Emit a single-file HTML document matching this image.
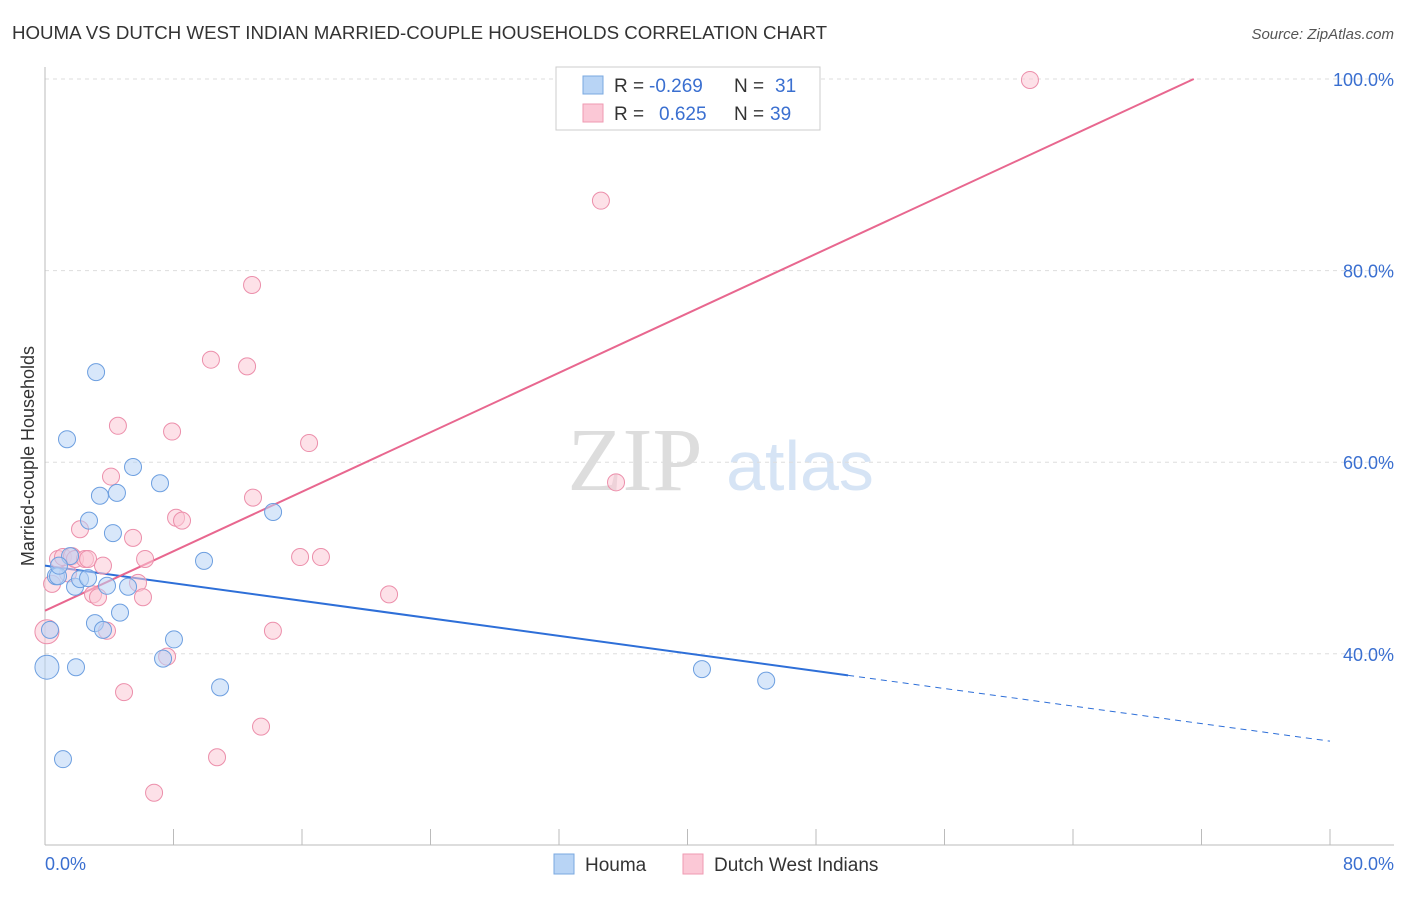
<!DOCTYPE html>
<html><head><meta charset="utf-8"><style>
body{margin:0;background:#fff;font-family:"Liberation Sans",sans-serif;}
</style></head><body>
<svg width="1406" height="892" xmlns="http://www.w3.org/2000/svg" id="chart" font-family="Liberation Sans, sans-serif">
<text x="12" y="39" font-size="18.7" fill="#333">HOUMA VS DUTCH WEST INDIAN MARRIED-COUPLE HOUSEHOLDS CORRELATION CHART</text>
<text x="1394" y="39" font-size="15" fill="#555" font-style="italic" text-anchor="end">Source: ZipAtlas.com</text>
<g><text x="635" y="490" font-size="90" fill="#ddd" font-family="Liberation Serif, serif" text-anchor="middle">ZIP</text><text x="800" y="490" font-size="70" fill="#d6e4f5" text-anchor="middle">atlas</text></g>
<text transform="translate(34,456) rotate(-90)" font-size="18" fill="#333" text-anchor="middle">Married-couple Households</text>
<g id="grid"></g><g id="axes"></g><g id="lines"></g><g id="pts"></g>
<g>
<rect x="556" y="67" width="264" height="63" fill="#fff" stroke="#ccc"/>
<rect x="583" y="76" width="20" height="18" fill="#b8d4f5" stroke="#7aa8e0"/>
<rect x="583" y="104" width="20" height="18" fill="#fbc8d6" stroke="#ef9ab2"/>
<text x="614" y="92" font-size="19" fill="#333">R =</text>
<text x="649" y="92" font-size="19" fill="#3a6fd0">-0.269</text>
<text x="734" y="92" font-size="19" fill="#333">N =</text>
<text x="775" y="92" font-size="19" fill="#3a6fd0">31</text>
<text x="614" y="120" font-size="19" fill="#333">R =</text>
<text x="659" y="120" font-size="19" fill="#3a6fd0">0.625</text>
<text x="734" y="120" font-size="19" fill="#333">N =</text>
<text x="770" y="120" font-size="19" fill="#3a6fd0">39</text>
</g>
<g>
<rect x="554" y="854" width="20" height="20" fill="#b8d4f5" stroke="#7aa8e0"/>
<text x="585" y="871" font-size="19" fill="#333">Houma</text>
<rect x="683" y="854" width="20" height="20" fill="#fbc8d6" stroke="#ef9ab2"/>
<text x="714" y="871" font-size="19" fill="#333">Dutch West Indians</text>
</g>
</svg>
<script>
const blueX=[0.12,0.31,0.68,0.81,1.12,1.37,1.56,1.87,1.93,2.18,2.68,2.74,3.11,3.18,3.42,3.61,3.86,4.23,4.48,4.67,5.17,5.48,7.16,7.35,8.03,9.90,10.9,14.2,40.9,44.9,0.87];
const blueY=[38.6,42.5,48.1,48.1,29.0,62.4,50.2,47.0,38.6,47.8,47.9,53.9,43.2,69.4,56.5,42.5,47.1,52.6,56.8,44.3,47.0,59.5,57.8,39.5,41.5,49.7,36.5,54.8,38.4,37.2,49.2];
const pinkX=[0.12,0.44,0.81,1.12,1.43,1.68,1.87,2.18,2.49,2.68,2.99,3.30,3.61,3.86,4.11,4.54,4.92,5.48,5.79,6.10,6.23,6.79,7.91,8.16,8.53,7.60,10.33,10.71,12.58,12.89,12.95,13.45,14.19,15.88,16.44,17.18,21.42,34.61,35.55,61.32];
const pinkY=[42.3,47.3,49.9,50.1,48.4,50.2,49.9,53.0,49.9,49.9,46.2,45.9,49.2,42.4,58.5,63.8,36.0,52.1,47.4,45.9,49.9,25.5,63.2,54.2,53.9,39.7,70.7,29.2,70.0,78.5,56.3,32.4,42.4,50.1,62.0,50.1,46.2,87.3,57.9,99.9];
const yTicks=[40,60,80,100];
const xTickLabels=["0.0%","80.0%"];
const blueTrend=[49.2,-0.229];
const pinkTrend=[44.5,0.776];
const ns="http://www.w3.org/2000/svg";
const sx=v=>45+v*16.0625, sy=v=>1037-v*9.58;
function mk(tag,attrs,parent){const e=document.createElementNS(ns,tag);for(const k in attrs)e.setAttribute(k,attrs[k]);document.getElementById(parent).appendChild(e);return e;}
yTicks.forEach(t=>{
 const l=mk('line',{x1:45,x2:1394,y1:sy(t),y2:sy(t),stroke:'#ddd','stroke-dasharray':'4,4'},'grid');
 
 
 const tx=mk('text',{x:1394,y:sy(t)+7,'font-size':18,fill:'#3a6fd0','text-anchor':'end'},'grid');tx.textContent=t.toFixed(1)+'%';
 
 
});
const ax=mk('line',{x1:45,x2:45,y1:67,y2:845,stroke:'#bbb'},'axes');


const bx=mk('line',{x1:45,x2:1394,y1:845,y2:845,stroke:'#bbb'},'axes');


for(let i=1;i<=10;i++){const t=mk('line',{x1:sx(i*8),x2:sx(i*8),y1:829,y2:845,stroke:'#bbb'},'axes');
 
 }
[[0,'start',45],[80,'end',1394]].forEach((a,i)=>{const t=mk('text',{x:a[2],y:870,'font-size':18,fill:'#3a6fd0','text-anchor':a[1]},'axes');t.textContent=xTickLabels[i];
 
 });
function pts(X,Y,fill,stroke,name){X.forEach((x,i)=>{const r=(x<0.2)?12:8.5;const c=mk('circle',{cx:sx(x),cy:sy(Y[i]),r:r,fill:fill,'fill-opacity':0.55,stroke:stroke,'stroke-width':1},'pts');
 
 });}
pts(pinkX,pinkY,'#fbc8d6','#ec8fab','dutch-west-indians-point');
pts(blueX,blueY,'#b8d4f5','#6d9fe0','houma-point');
const f=(t,x)=>t[0]+t[1]*x;
let l1=mk('line',{x1:sx(0),y1:sy(f(blueTrend,0)),x2:sx(50),y2:sy(f(blueTrend,50)),stroke:'#2e6fd8','stroke-width':2},'lines');


let l2=mk('line',{x1:sx(50),y1:sy(f(blueTrend,50)),x2:sx(80),y2:sy(f(blueTrend,80)),stroke:'#2e6fd8','stroke-width':1,'stroke-dasharray':'6,5'},'lines');


const xe=(100-pinkTrend[0])/pinkTrend[1];
let l3=mk('line',{x1:sx(0),y1:sy(f(pinkTrend,0)),x2:sx(xe),y2:sy(100),stroke:'#e8678f','stroke-width':2},'lines');


</script>
</body></html>
